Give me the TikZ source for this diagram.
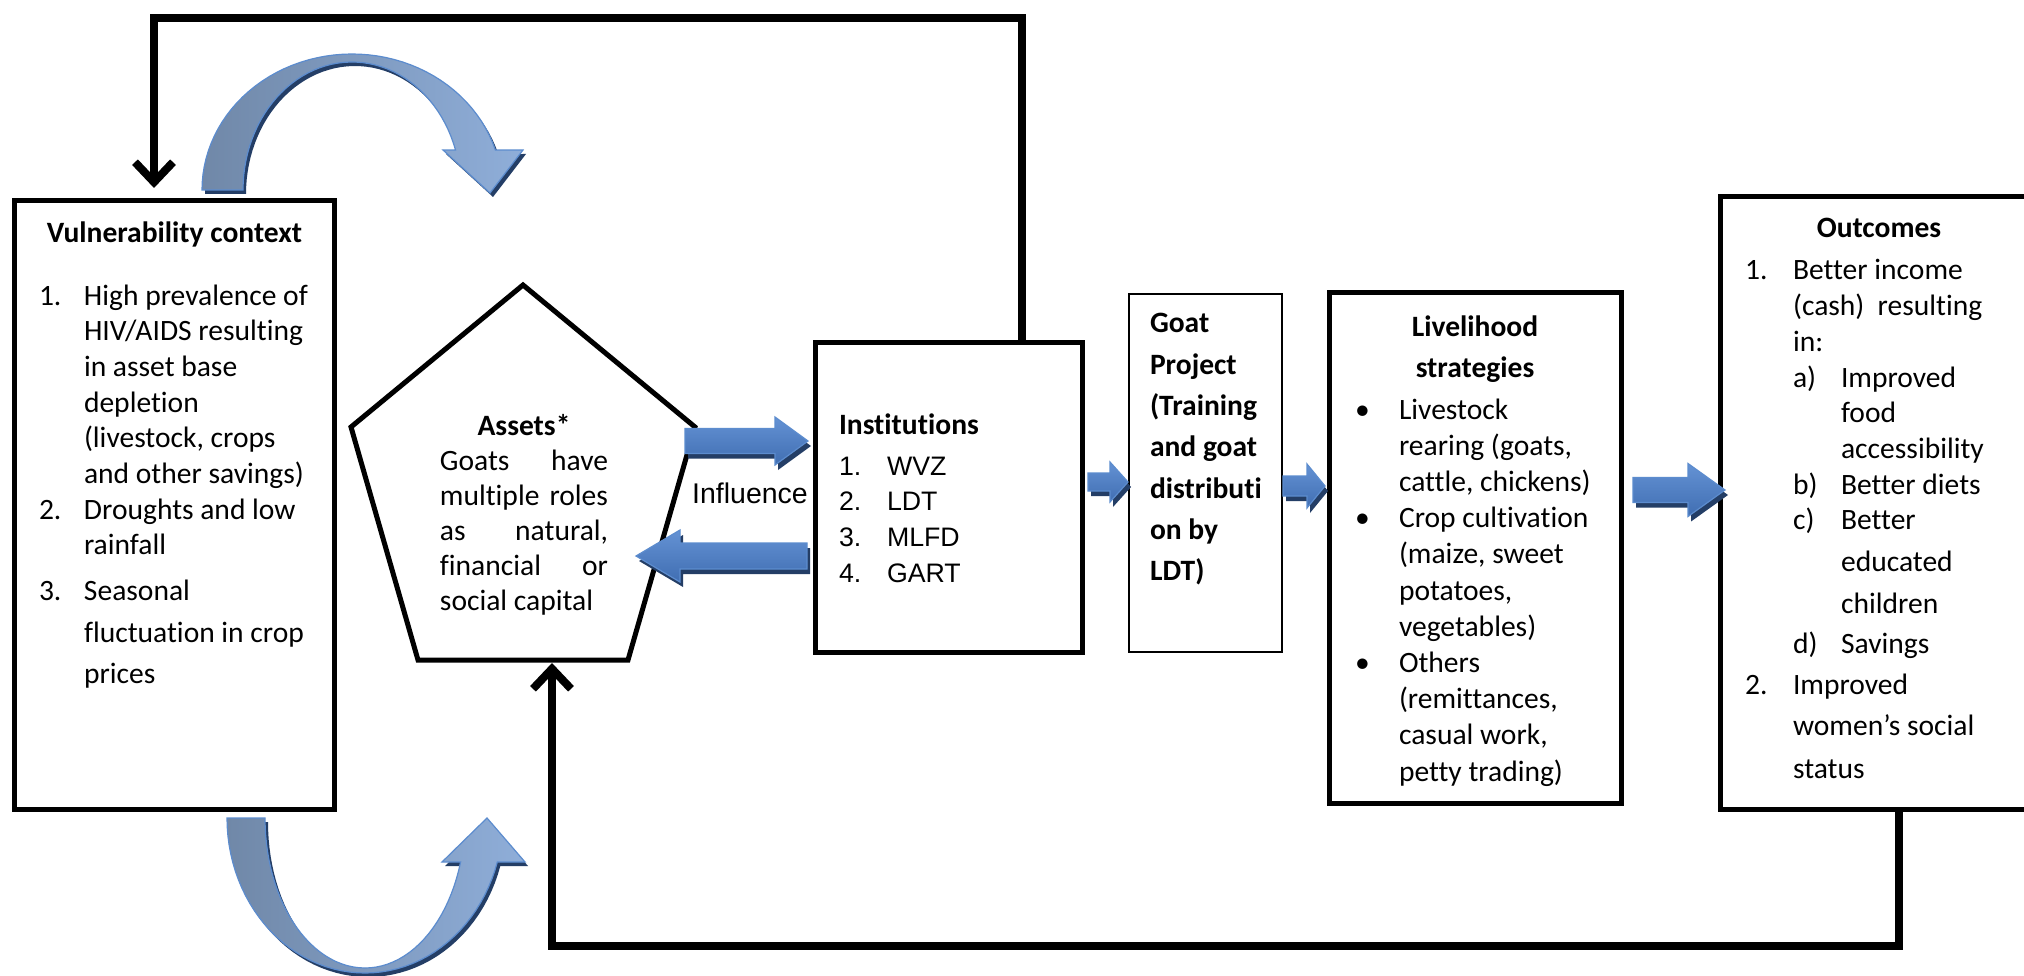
\documentclass[tikz,border=0pt]{standalone}
\usepackage{fontspec}
\setmainfont{Carlito}[Ligatures={TeX,NoCommon}]
\newfontfamily\arialf{Liberation Sans}
\usetikzlibrary{arrows.meta}
\definecolor{arrlight}{RGB}{100,146,212}
\definecolor{arrdark}{RGB}{64,110,178}
\definecolor{arredge}{RGB}{92,140,206}
\definecolor{arrshadow}{RGB}{36,62,102}
\definecolor{curvgray}{RGB}{112,136,168}
\definecolor{curvmid}{RGB}{70,110,170}
\definecolor{curvlight}{RGB}{143,174,217}
\newcommand{\fb}[1]{\fontsize{8.4pt}{#1}\selectfont}
% block arrow: xs, xb, xt, yc, shaft half, head half
\newcommand{\blockarr}[6]{%
  \fill[arrshadow, shift={(3,5)}] (#1,{#4-#5}) -- (#2,{#4-#5}) -- (#2,{#4-#6}) -- (#3,#4) -- (#2,{#4+#6}) -- (#2,{#4+#5}) -- (#1,{#4+#5}) -- cycle;
  \path[blockbody] (#1,{#4-#5}) -- (#2,{#4-#5}) -- (#2,{#4-#6}) -- (#3,#4) -- (#2,{#4+#6}) -- (#2,{#4+#5}) -- (#1,{#4+#5}) -- cycle;}
\tikzset{
  box/.style={draw, line width=0.05cm, fill=white, inner sep=0pt, outer sep=0pt},
  thinbox/.style={draw, line width=0.02cm, fill=white, inner sep=0pt, outer sep=0pt},
  conn/.style={line width=0.08cm, -{Straight Barb[length=0.2cm,width=0.38cm]}},
  txt/.style={inner sep=0pt, outer sep=0pt},
  blockbody/.style={top color=arrlight, bottom color=arrdark, draw=arredge, line width=0.012cm},
  curvebody/.style={left color=curvgray, middle color=curvmid, right color=curvlight, draw=arredge, line width=0.012cm},
}
\begin{document}
\begin{tikzpicture}[x=0.01cm, y=-0.01cm]
\path[use as bounding box] (0,0) rectangle (2024,976);
\clip (0,0) rectangle (2024,976);
\fill[white] (0,0) rectangle (2024,976);

% boxes
\node[box, minimum width=3.19cm, minimum height=6.08cm] (vuln) at (174.5,505) {};
\node[box, minimum width=2.66cm, minimum height=3.09cm] (inst) at (949,497.5) {};
\node[thinbox, minimum width=1.53cm, minimum height=3.58cm] (goat) at (1205.5,473) {};
\node[box, minimum width=2.91cm, minimum height=5.10cm] (liv) at (1475.5,548) {};
\node[box, minimum width=3.39cm, minimum height=6.12cm] (outc) at (1890.5,503) {};

% pentagon
\coordinate (pt) at (523,285);
\coordinate (pr) at (695,427);
\coordinate (pbr) at (628,660);
\coordinate (pbl) at (418,660);
\coordinate (pl) at (351,427);
\draw[line width=0.05cm, fill=white] (pt) -- (pr) -- (pbr) -- (pbl) -- (pl) -- cycle;

% black connectors
\coordinate (tr) at (1022,18);
\coordinate (tl) at (154,18);
\coordinate (vtop) at (154,188);
\draw[conn] (inst.north -| tr) -- (tr) -- (tl) -- (vtop);
\coordinate (br) at (1899,946);
\coordinate (bl) at (552,946);
\coordinate (pentb) at (552,663);
\draw[conn] (outc.south -| br) -- (br) -- (bl) -- (pentb);

% curved arrows
\fill[arrshadow, shift={(3,4)}] plot[domain=180:342.9, samples=50, variable=\t] ({352+150*cos(\t)},{190+136*sin(\t)}) -- (523,150) -- (490,193) -- (443,150) -- plot[domain=341.8:180, samples=50, variable=\t] ({352+109*cos(\t)},{190+128*sin(\t)}) -- cycle;
\path[curvebody] plot[domain=180:342.9, samples=50, variable=\t] ({352+150*cos(\t)},{190+136*sin(\t)}) -- (523,150) -- (490,193) -- (443,150) -- plot[domain=341.8:180, samples=50, variable=\t] ({352+109*cos(\t)},{190+128*sin(\t)}) -- cycle;

\fill[arrshadow, shift={(3,4)}] plot[domain=180:16.5, samples=50, variable=\t] ({365+138*cos(\t)},{818+155*sin(\t)}) -- (525,862) -- (487,818) -- (442,862) -- plot[domain=17.06:180, samples=50, variable=\t] ({365+100*cos(\t)},{818+150*sin(\t)}) -- cycle;
\path[curvebody] plot[domain=180:16.5, samples=50, variable=\t] ({365+138*cos(\t)},{818+155*sin(\t)}) -- (525,862) -- (487,818) -- (442,862) -- plot[domain=17.06:180, samples=50, variable=\t] ({365+100*cos(\t)},{818+150*sin(\t)}) -- cycle;

% straight block arrows
\blockarr{685}{775}{808}{441}{12.5}{24}
\blockarr{807}{680}{636}{556}{13}{26}
\blockarr{1088}{1110}{1128}{482}{9}{20}
\blockarr{1283}{1307}{1325}{486}{10}{22}
\blockarr{1633}{1688}{1725}{490}{12.5}{26.5}

% texts
\node[txt, font=\fb{10pt}\bfseries] (vulnt) at (174.5,234) {Vulnerability context};
\node[txt, anchor=base west, font=\fb{10.15pt}] (vulnl) at (39,305) {%
\begin{tabular}[t]{@{}p{0.45cm}@{}l@{}}
1. & High prevalence of\\
 & HIV/AIDS resulting\\
 & in asset base\\
 & depletion\\
 & (livestock, crops\\
 & and other savings)\\
2. & Droughts and low\\
 & rainfall\\[2.85pt]
3. & Seasonal\\[1.8pt]
 & fluctuation in crop\\[1.5pt]
 & prices
\end{tabular}};

\node[txt, anchor=base, font=\fb{10.0pt}] (assets) at (524,435) {%
\begin{tabular}[t]{@{}c@{}}
\textbf{Assets*}\\
\makebox[1.68cm][s]{Goats have}\\
\makebox[1.68cm][s]{multiple roles}\\
\makebox[1.68cm][s]{as natural,}\\
\makebox[1.68cm][s]{financial or}\\
\makebox[1.68cm][l]{social capital}
\end{tabular}};

\node[txt, font=\arialf\fontsize{8.1pt}{9pt}\selectfont] (infl) at (750,493) {Influence};

\node[txt, anchor=base west, font=\fb{10pt}\bfseries] (instt) at (839,434) {Institutions};
\node[txt, anchor=base west, font=\arialf\fontsize{7.6pt}{10.15pt}\selectfont] (instl) at (839,475) {%
\begin{tabular}[t]{@{}p{0.48cm}@{}l@{}}
1. & WVZ\\
2. & LDT\\
3. & MLFD\\
4. & GART
\end{tabular}};

\node[txt, anchor=base west, font=\fb{11.75pt}\bfseries] (goatt) at (1150,333) {%
\begin{tabular}[t]{@{}l@{}}
Goat\\
Project\\
(Training\\
and goat\\
distributi\\
on by\\
LDT)
\end{tabular}};

\node[txt, anchor=base, font=\fb{11.67pt}\bfseries] (livt) at (1475,336) {%
\begin{tabular}[t]{@{}c@{}}
Livelihood\\
strategies
\end{tabular}};
\node[txt, anchor=base west, font=\fb{10.3pt}] (livl) at (1355,419) {%
\begin{tabular}[t]{@{}p{0.44cm}@{}l@{}}
• & Livestock\\
 & rearing (goats,\\
 & cattle, chickens)\\
• & Crop cultivation\\
 & (maize, sweet\\
 & potatoes,\\
 & vegetables)\\
• & Others\\
 & (remittances,\\
 & casual work,\\
 & petty trading)
\end{tabular}};

\node[txt, font=\fb{10pt}\bfseries] (outct) at (1879,228) {Outcomes};
\node[txt, anchor=base west, font=\fb{10.15pt}] (outcl) at (1745,280) {%
\begin{tabular}[t]{@{}p{0.48cm}@{}p{0.48cm}@{}l@{}}
1. & \multicolumn{2}{@{}l@{}}{Better income}\\
 & \multicolumn{2}{@{}l@{}}{(cash)\ \ resulting}\\
 & \multicolumn{2}{@{}l@{}}{in:}\\
 & a) & Improved\\
 & & food\\
 & & accessibility\\
 & b) & Better diets\\
 & c) & Better\\[1.8pt]
 & & educated\\[1.8pt]
 & & children\\[1.2pt]
 & d) & Savings\\[1.5pt]
2. & \multicolumn{2}{@{}l@{}}{Improved}\\[1.5pt]
 & \multicolumn{2}{@{}l@{}}{women’s social}\\[2.1pt]
 & \multicolumn{2}{@{}l@{}}{status}
\end{tabular}};
\end{tikzpicture}
\end{document}
